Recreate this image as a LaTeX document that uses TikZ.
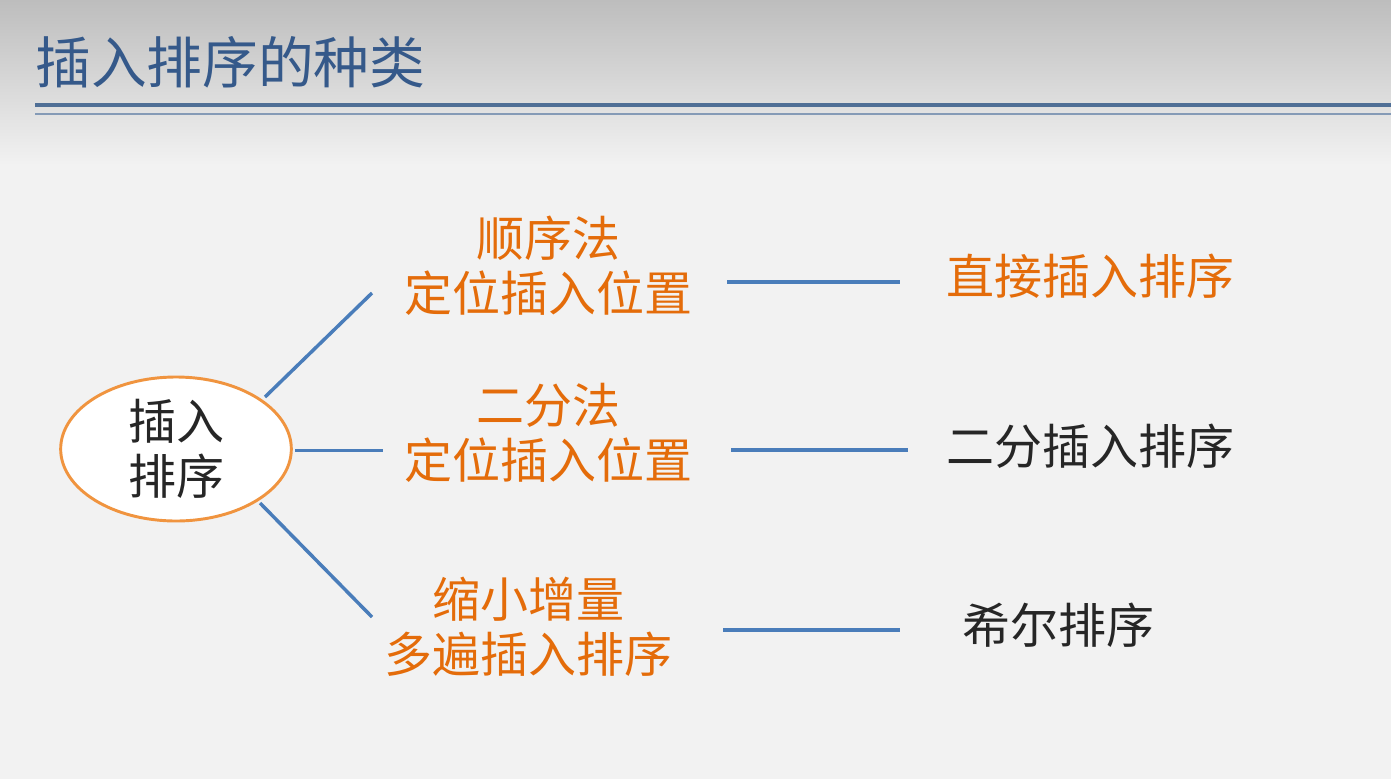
\documentclass[tikz,border=0pt]{standalone}
\usepackage{fontspec}
\setmainfont{Noto Sans CJK SC}
\usetikzlibrary{shapes.geometric}
\definecolor{titleblue}{HTML}{35598A}
\definecolor{rulblue}{HTML}{4F6F96}
\definecolor{linkblue}{HTML}{4A7DBA}
\definecolor{accent}{HTML}{E46C0A}
\definecolor{ringorange}{HTML}{F0943F}
\definecolor{ink}{HTML}{262626}
\definecolor{paper}{HTML}{F2F2F2}
\definecolor{topgray}{HTML}{BDBDBD}
\begin{document}
\begin{tikzpicture}[x=0.75pt,y=-0.75pt,
  method/.style={text=accent,font=\fontsize{36}{41}\selectfont,align=center,inner sep=0pt},
  result/.style={font=\fontsize{36}{41}\selectfont,inner sep=0pt,anchor=west},
  link/.style={draw=linkblue,line width=3pt},
  branch/.style={draw=linkblue,line width=2.6pt}]
  % page background with the shaded header band
  \useasboundingbox (0,0) rectangle (1391,779);
  \fill[paper] (0,0) rectangle (1391,779);
  \shade[top color=topgray,bottom color=paper] (0,0) rectangle (1391,165);
  % heading and its double rule
  \node[anchor=west,inner sep=0pt,text=titleblue,font=\fontsize{41.8}{48}\selectfont] (title) at (35,62) {插入排序的种类};
  \draw[rulblue,line width=2.5pt] (35,105) -- (1391,105);
  \draw[rulblue!70,line width=1.1pt] (35,114) -- (1391,114);
  % central ellipse
  \node[ellipse,draw=ringorange,line width=2.2pt,fill=white,minimum width=173pt,minimum height=108pt,inner sep=0pt,
        align=center,text=ink,font=\fontsize{36}{41}\selectfont] (root) at (176,449) {插入\\排序};
  % middle column: how the insertion position is found
  \node[method] (m1) at (548,266) {顺序法\\定位插入位置};
  \node[method] (m2) at (548,433) {二分法\\定位插入位置};
  \node[method] (m3) at (528,627) {缩小增量\\多遍插入排序};
  % right column: resulting sort names
  \node[result,text=accent] (r1) at (946,276) {直接插入排序};
  \node[result,text=ink] (r2) at (946,446) {二分插入排序};
  \node[result,text=ink] (r3) at (962,625) {希尔排序};
  % branch end points
  \coordinate (b1s) at (265,397); \coordinate (b1e) at (372,293);
  \coordinate (b2s) at (295,450.5); \coordinate (b2e) at (383,450.5);
  \coordinate (b3s) at (260,503); \coordinate (b3e) at (372,617);
  \draw[branch] (b1s) -- (b1e);
  \draw[branch] (b2s) -- (b2e);
  \draw[branch] (b3s) -- (b3e);
  % links from each method to its sort
  \coordinate (l1s) at (727,282); \coordinate (l1e) at (900,282);
  \coordinate (l2s) at (731,450); \coordinate (l2e) at (908,450);
  \coordinate (l3s) at (723,630); \coordinate (l3e) at (900,630);
  \draw[link] (l1s) -- (l1e);
  \draw[link] (l2s) -- (l2e);
  \draw[link] (l3s) -- (l3e);
\end{tikzpicture}
\end{document}
